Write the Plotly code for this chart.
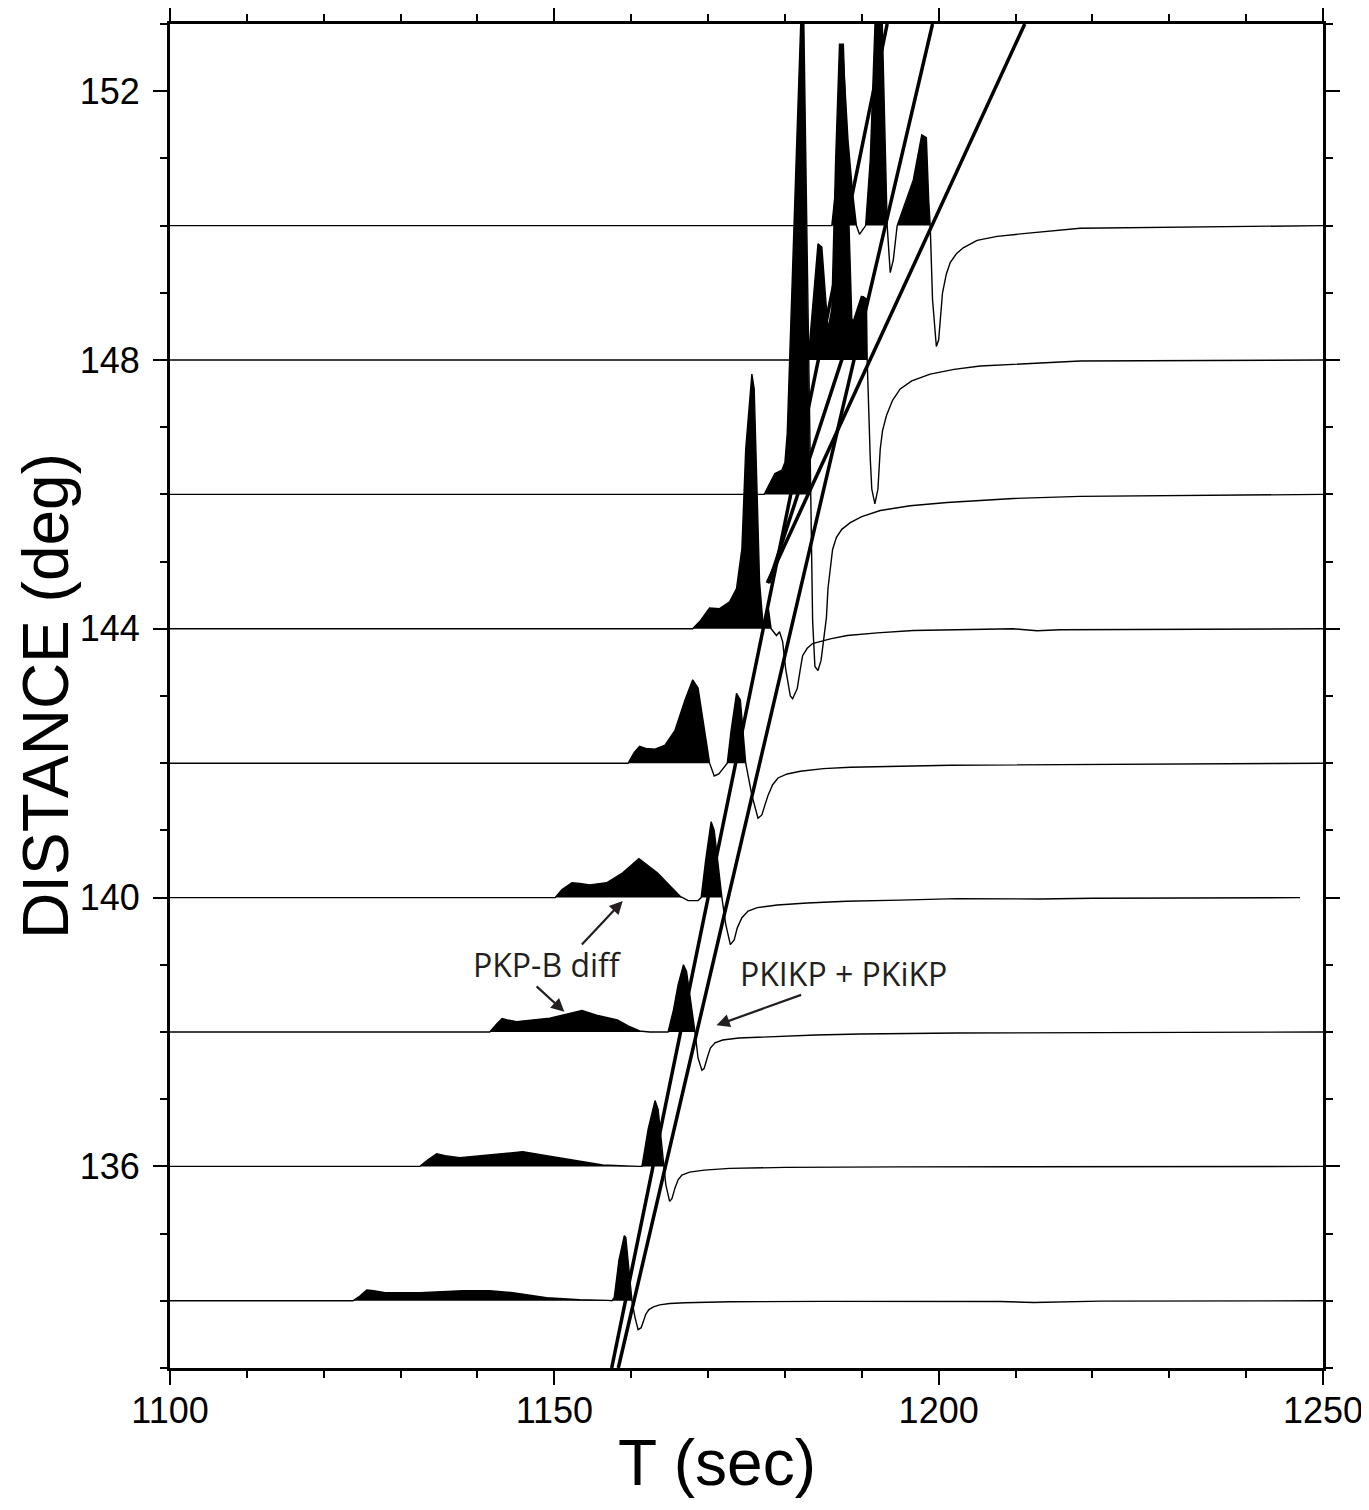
import plotly.graph_objects as go

# ---------------- data ----------------
distances = [134, 136, 138, 140, 142, 144, 146, 148, 150]

t134 = [1100, 1123.8, 1124.7, 1125.6, 1126.5, 1128.0, 1132.5, 1138.1, 1141.6, 1144.6, 1149.0, 1153.3, 1157.0, 1157.5,
        1157.8, 1158.4, 1159.1, 1159.3, 1160.1, 1160.5, 1160.9, 1161.3, 1161.6, 1161.9, 1162.3, 1162.9, 1163.7,
        1165.0, 1167.0, 1172.8, 1185.0, 1195.0, 1208.0, 1212.4, 1216.5, 1221.0, 1250]
a134 = [0, 0, 0.07, 0.16, 0.15, 0.12, 0.12, 0.15, 0.15, 0.12, 0.045, 0.015, 0.007, 0,
        0.05, 0.6, 0.97, 0.94, 0, -0.25, -0.43, -0.40, -0.30, -0.20, -0.13, -0.09, -0.06,
        -0.04, -0.03, -0.015, -0.008, -0.005, -0.01, -0.025, -0.012, -0.005, 0]

t136 = [1100, 1132.5, 1133.6, 1134.7, 1135.8, 1137.7, 1142.5, 1145.9, 1149.0, 1153.3, 1156.3, 1160.9, 1161.4,
        1162.2, 1163.1, 1163.5, 1164.2, 1164.5, 1165.0, 1165.3, 1165.7, 1166.1, 1166.6, 1167.6, 1169.5, 1172.8,
        1180.0, 1195.0, 1250]
a136 = [0, 0, 0.10, 0.19, 0.16, 0.13, 0.18, 0.22, 0.16, 0.08, 0.02, 0, 0,
        0.55, 0.98, 0.85, 0, -0.27, -0.52, -0.48, -0.32, -0.20, -0.13, -0.085, -0.055, -0.03,
        -0.015, -0.007, 0]

t138 = [1100, 1141.6, 1142.5, 1143.2, 1143.9, 1145.1, 1149.4, 1152.0, 1153.6, 1155.5, 1158.2, 1159.6, 1161.1, 1162.4,
        1164.8, 1165.5, 1166.1, 1166.8, 1167.2, 1168.3, 1168.7, 1169.2, 1169.5, 1169.9, 1170.3, 1170.9, 1171.9,
        1174.0, 1178.4, 1184.0, 1189.8, 1202.4, 1250]
a138 = [0, 0, 0.12, 0.20, 0.18, 0.155, 0.205, 0.28, 0.32, 0.25, 0.18, 0.09, 0.015, 0,
        0, 0.33, 0.70, 1.0, 0.9, 0, -0.39, -0.57, -0.54, -0.38, -0.24, -0.16, -0.12,
        -0.09, -0.07, -0.045, -0.03, -0.015, 0]

t140 = [1100, 1150.1, 1151.0, 1152.3, 1153.3, 1154.6, 1156.8, 1158.9, 1161.0, 1162.2, 1163.4, 1165.1, 1166.4, 1166.7,
        1167.4, 1168.7, 1169.1, 1169.7, 1170.4, 1170.8, 1171.8, 1172.3, 1172.9, 1173.4, 1173.8, 1174.4, 1175.2,
        1176.4, 1179.0, 1182.9, 1188.0, 1195.0, 1202.4, 1213.2, 1220.0, 1247.0]
a140 = [0, 0, 0.12, 0.22, 0.21, 0.19, 0.22, 0.37, 0.58, 0.48, 0.37, 0.17, 0.015, 0,
        -0.045, -0.045, 0, 0.57, 1.13, 1.0, 0, -0.40, -0.70, -0.63, -0.45, -0.30, -0.20,
        -0.15, -0.11, -0.08, -0.055, -0.037, -0.015, -0.02, -0.01, 0]

t142 = [1100, 1159.6, 1160.4, 1161.1, 1161.9, 1163.1, 1164.4, 1165.7, 1167.0, 1168.0, 1168.7, 1169.5, 1170.2,
        1170.8, 1171.4, 1172.5, 1173.0, 1173.7, 1174.2, 1174.9, 1175.7, 1176.5, 1177.0, 1177.4, 1177.8, 1178.4,
        1179.1, 1180.3, 1182.0, 1185.0, 1188.5, 1201.5, 1250]
a142 = [0, 0, 0.16, 0.25, 0.22, 0.21, 0.27, 0.49, 0.94, 1.24, 1.12, 0.49, 0,
        -0.19, -0.16, 0, 0.49, 1.04, 0.94, 0, -0.48, -0.82, -0.77, -0.62, -0.48, -0.32,
        -0.22, -0.16, -0.12, -0.08, -0.06, -0.03, 0]

t144 = [1100, 1168.0, 1169.0, 1170.2, 1171.5, 1172.8, 1173.7, 1174.4, 1174.9, 1175.7, 1176.0, 1176.5, 1176.7, 1177.2,
        1177.8, 1178.2, 1178.9, 1179.3, 1179.7, 1180.1, 1180.7, 1181.0, 1181.6, 1182.0, 1182.3, 1182.9, 1183.6,
        1185.9, 1188.1, 1192.0, 1196.7, 1209.7, 1212.8, 1215.8, 1250]
a144 = [0, 0, 0.12, 0.31, 0.30, 0.40, 0.60, 1.19, 2.68, 3.79, 3.57, 1.49, 0.70, 0,
        0.34, 0, -0.10, -0.045, -0.19, -0.60, -1.0, -1.04, -0.89, -0.60, -0.40, -0.29, -0.22,
        -0.15, -0.10, -0.06, -0.025, 0, -0.03, -0.015, 0]

t146 = [1100, 1177.3, 1178.1, 1178.7, 1179.6, 1180.0, 1180.3, 1180.7, 1181.5, 1182.2, 1182.4, 1182.7, 1183.0, 1183.3,
        1183.6, 1183.9, 1184.3, 1184.7, 1185.4, 1185.6, 1185.9, 1186.2, 1186.7, 1187.4, 1188.5, 1190.0, 1192.4,
        1196.3, 1201.1, 1209.7, 1218.4, 1250]
a146 = [0, 0, 0.18, 0.31, 0.36, 0.48, 0.91, 2.40, 5.12, 7.5, 7.5, 5.12, 2.89, 0,
        -1.875, -2.56, -2.62, -2.47, -1.83, -1.40, -1.09, -0.82, -0.64, -0.52, -0.42, -0.33, -0.24,
        -0.17, -0.12, -0.06, -0.03, 0]

t148 = [1100, 1182.6, 1183.2, 1183.7, 1184.3, 1184.8, 1185.2, 1185.6, 1186.1, 1186.6, 1187.1, 1187.6, 1188.2, 1188.7,
        1189.2, 1189.8, 1190.2, 1190.6, 1190.7, 1191.1, 1191.3, 1191.7, 1192.1, 1192.4, 1192.7, 1193.2, 1194.0,
        1195.0, 1196.5, 1198.9, 1202.0, 1205.4, 1218.4, 1250]
a148 = [0, 0, 0.24, 0.91, 1.73, 1.68, 1.06, 0.46, 0.76, 2.99, 4.70, 4.70, 2.54, 0.61,
        0.54, 0.76, 0.94, 0.91, 0, -1.47, -1.92, -2.14, -1.92, -1.32, -1.05, -0.83, -0.60,
        -0.43, -0.31, -0.21, -0.14, -0.09, -0.015, 0]

t150 = [1100, 1186.1, 1186.6, 1187.2, 1187.6, 1188.2, 1188.8, 1189.3, 1189.7, 1190.1, 1190.5, 1191.1, 1191.6, 1192.1,
        1192.4, 1192.9, 1193.3, 1193.7, 1194.1, 1194.6, 1195.6, 1196.7, 1197.8, 1198.4, 1198.7, 1198.9, 1199.2,
        1199.7, 1200.0, 1200.3, 1200.5, 1201.0, 1201.5, 1202.3, 1203.2, 1205.0, 1207.6, 1211.0, 1214.1, 1218.4, 1250]
a150 = [0, 0, 0.54, 1.88, 2.47, 1.28, 0.49, 0, -0.13, -0.06, 0, 0.98, 2.77, 4.26,
        4.26, 1.88, 0, -0.70, -0.51, 0, 0.31, 0.68, 1.35, 1.31, 0.39, 0, -1.10,
        -1.80, -1.70, -1.30, -1.0, -0.72, -0.55, -0.42, -0.33, -0.22, -0.16, -0.12, -0.09, -0.04, 0]

times = [t134, t136, t138, t140, t142, t144, t146, t148, t150]
amps = [a134, a136, a138, a140, a142, a144, a146, a148, a150]

# travel-time curves: (distance, time) end points
curve_df = ([133.0, 153.0], [1157.46, 1193.3])
curve_pkikp = ([133.0, 153.0], [1158.32, 1199.2])
curve_ab = ([144.68, 153.0], [1177.7, 1211.2])
curve_bc = ([144.68, 148.95], [1177.9, 1190.1])
curves = [curve_df, curve_pkikp, curve_ab, curve_bc]

x_ticks = [1100, 1150, 1200, 1250]
y_ticks = [136, 140, 144, 148, 152]

# ---------------- figure ----------------
fig = go.Figure()

for d, t, a in zip(distances, times, amps):
    base = [d] * len(t)
    pos = [d + max(v, 0) for v in a]
    full = [d + v for v in a]
    fig.add_trace(go.Scatter(x=t, y=base, mode="lines", line=dict(width=0, color="black"),
                             hoverinfo="skip", showlegend=False))
    fig.add_trace(go.Scatter(x=t, y=pos, mode="lines", line=dict(width=0, color="black"),
                             fill="tonexty", fillcolor="black", hoverinfo="skip", showlegend=False))
    fig.add_trace(go.Scatter(x=t, y=full, mode="lines", line=dict(width=1.4, color="black"),
                             hoverinfo="skip", showlegend=False))

for dist, tt in curves:
    fig.add_trace(go.Scatter(x=tt, y=dist, mode="lines", line=dict(width=3.5, color="black"),
                             hoverinfo="skip", showlegend=False))

tick_font = dict(family="Liberation Sans, Arial, sans-serif", size=36, color="black")

fig.update_xaxes(range=[1100, 1250], tickvals=x_ticks, ticktext=[str(v) for v in x_ticks],
                 ticks="outside", ticklen=14, tickwidth=2, tickcolor="black",
                 minor=dict(dtick=10, tick0=1100, ticks="outside", ticklen=7, tickwidth=2, tickcolor="black", showgrid=False),
                 showline=True, linewidth=3, linecolor="black", mirror="ticks",
                 showgrid=False, zeroline=False, tickfont=tick_font, ticklabelstandoff=-5)
fig.update_yaxes(range=[133, 153], tickvals=y_ticks, ticktext=[str(v) for v in y_ticks],
                 ticks="outside", ticklen=14, tickwidth=2, tickcolor="black",
                 minor=dict(dtick=1, tick0=133, ticks="outside", ticklen=7, tickwidth=2, tickcolor="black", showgrid=False),
                 showline=True, linewidth=3, linecolor="black", mirror="ticks",
                 showgrid=False, zeroline=False, tickfont=tick_font, ticklabelstandoff=6)

ann_font = dict(family="Open Sans, sans-serif", size=32, color="#231f20")
fig.add_annotation(x=1149.0, y=139.0, text="PKP-B diff", showarrow=False, font=ann_font)
fig.add_annotation(x=1187.6, y=138.87, text="PKIKP + PKiKP", showarrow=False, font=ann_font)
# arrows
fig.add_annotation(x=1158.9, y=139.95, ax=1153.4, ay=139.28, xref="x", yref="y", axref="x", ayref="y",
                   text="", showarrow=True, arrowhead=2, arrowsize=1.2, arrowwidth=2.2, arrowcolor="#231f20")
fig.add_annotation(x=1151.3, y=138.3, ax=1147.5, ay=138.7, xref="x", yref="y", axref="x", ayref="y",
                   text="", showarrow=True, arrowhead=2, arrowsize=1.2, arrowwidth=2.2, arrowcolor="#231f20")
fig.add_annotation(x=1171.1, y=138.1, ax=1182.3, ay=138.56, xref="x", yref="y", axref="x", ayref="y",
                   text="", showarrow=True, arrowhead=2, arrowsize=1.2, arrowwidth=2.2, arrowcolor="#231f20")

# axis titles
fig.add_annotation(xref="paper", yref="paper", x=-0.1075, y=0.5, text="DISTANCE (deg)", textangle=-90,
                   showarrow=False, font=dict(family="Liberation Sans, Arial, sans-serif", size=64, color="black"),
                   xanchor="center", yanchor="middle")
fig.add_annotation(xref="paper", yref="paper", x=0.474, y=-0.0707, text="T (sec)",
                   showarrow=False, font=dict(family="Liberation Sans, Arial, sans-serif", size=64, color="black"),
                   xanchor="center", yanchor="middle")

# the page body keeps an 8 px margin, so the figure is sized to fit inside it
fig.update_layout(width=1361, height=1494, autosize=False,
                  margin=dict(l=162, r=46, t=16, b=134, autoexpand=False),
                  plot_bgcolor="white", paper_bgcolor="white", showlegend=False)

fig.write_html("out.html")
